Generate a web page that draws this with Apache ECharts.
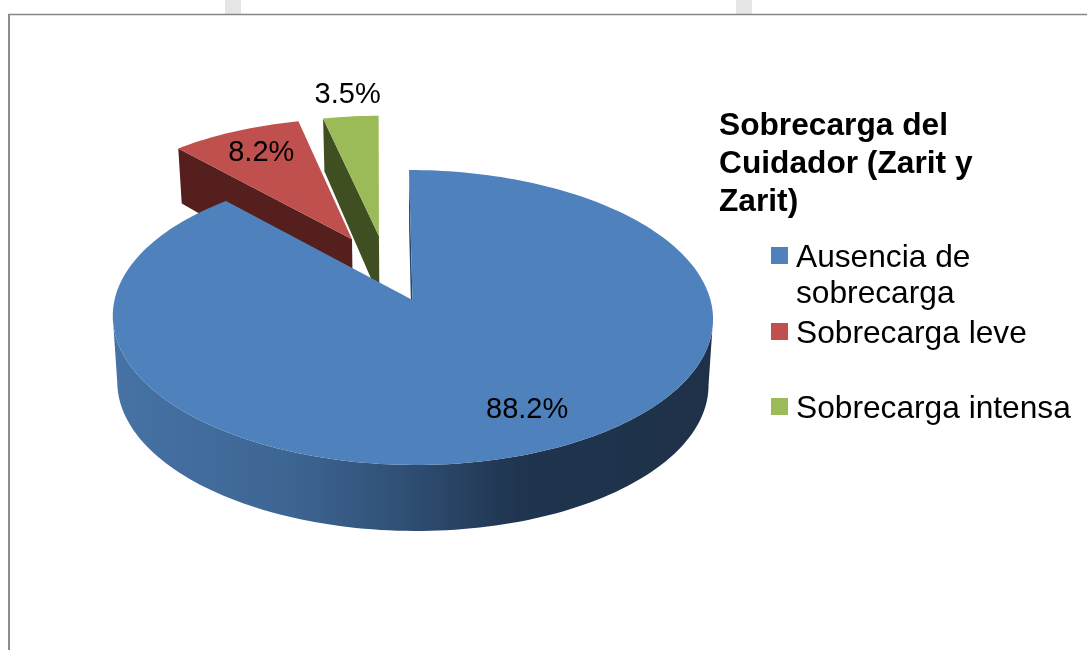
<!DOCTYPE html>
<html>
<head>
<meta charset="utf-8">
<style>html,body{margin:0;padding:0;background:#fff}#main{width:1087px;height:650px}</style>
<script src="https://cdn.jsdelivr.net/npm/echarts@6/dist/echarts.min.js"></script>
</head>
<body>
<div id="main"></div>
<script>
// datos
var categories = ['Ausencia de\nsobrecarga', 'Sobrecarga leve', 'Sobrecarga intensa'];
var values = [88.2, 8.2, 3.5];
var labels = ['88.2%', '8.2%', '3.5%'];
var titleText = 'Sobrecarga del\nCuidador (Zarit y\nZarit)';

var colors = ['#4f81bd', '#c0504d', '#9bbb59'];
var sideColors = ['#2a4668', '#551f1e', '#3f4f22'];
var labelShift = [[31, 7], [-7, -9.5], [-11, -56]];
var sliceNudge = [0, -3, 0];

// vista del pastel 3D
var cx = 412.5, cy = 300, R = 298, Rt = 145.4, persp = 0.1186, shear = 3.5;
var explode = 0.241, depth = 66;
var total = values.reduce(function (a, b) { return a + b; }, 0);

function dir(a) { return [Math.sin(a), Math.cos(a)]; }

function sliceAngles(i) {
    var before = 0;
    for (var k = 0; k < i; k++) before += values[k];
    var a0 = before / total * Math.PI * 2;
    return [a0, a0 + values[i] / total * Math.PI * 2];
}

function project(X, Y, lower) {
    var s = 1 / (1 + persp * Y);
    var x = cx + R * X * s - shear * Y;
    var y = cy - Rt * Y * s - 6 * Math.max(Y - 1, 0);
    if (lower) {
        x = cx + (x - cx) * 0.985;
        y += depth * (1 - 0.14 * Math.max(Y, 0));
    }
    return [x, y];
}

// centro de la torta entera, de modo que el vertice azul quede en (cx, cy)
function slicePoint(i, a, r, lower) {
    var ang = sliceAngles(0), m0 = dir((ang[0] + ang[1]) / 2);
    var s = sliceAngles(i), m = dir((s[0] + s[1]) / 2), d = dir(a);
    var p = project(
        explode * (m[0] - m0[0]) + r * d[0],
        explode * (m[1] - m0[1]) + r * d[1],
        lower
    );
    return [p[0] + sliceNudge[i], p[1]];
}

function arc(i, a0, a1, lower) {
    var pts = [], n = Math.max(4, Math.ceil((a1 - a0) * 40));
    for (var k = 0; k <= n; k++) pts.push(slicePoint(i, a0 + (a1 - a0) * k / n, 1, lower));
    return pts;
}

// solo la parte delantera del borde, entre los extremos derecho e izquierdo
function frontBand(i, a) {
    var top = arc(i, a[0], a[1], false), low = arc(i, a[0], a[1], true);
    var iMax = 0, iMin = 0;
    top.forEach(function (p, k) {
        if (p[0] > top[iMax][0]) iMax = k;
        if (p[0] < top[iMin][0]) iMin = k;
    });
    return top.slice(iMax, iMin + 1).concat(low.slice(iMax, iMin + 1).reverse());
}

var sideGradient = {
    type: 'linear', x: 113, y: 0, x2: 713, y2: 0, global: true,
    colorStops: [
        { offset: 0, color: '#4672a5' },
        { offset: 0.3, color: '#3d6592' },
        { offset: 0.5, color: '#2e4d72' },
        { offset: 0.68, color: '#1f344e' },
        { offset: 1, color: '#1e3148' }
    ]
};

function renderSlice(i) {
    return function (params, api) {
        var a = sliceAngles(i);
        var mid = (a[0] + a[1]) / 2;
        var top = arc(i, a[0], a[1], false);
        var apex = slicePoint(i, 0, 0, false), apexLow = slicePoint(i, 0, 0, true);
        var edge = [apex, top[0], slicePoint(i, a[0], 1, true), apexLow];
        var lp = slicePoint(i, mid, 0.7, false);
        var children = [
            { type: 'polygon', shape: { points: edge }, style: { fill: sideColors[i] } }
        ];
        if (i === 0) {
            children.push({ type: 'polygon', shape: { points: frontBand(i, a) }, style: { fill: sideGradient } });
        }
        children.push({ type: 'polygon', shape: { points: [apex].concat(top) }, style: { fill: colors[i] } });
        children.push({
            type: 'text', z2: 10,
            style: {
                x: lp[0] + labelShift[i][0], y: lp[1] + labelShift[i][1],
                text: labels[i], fill: '#000', align: 'center', verticalAlign: 'middle',
                font: '29px "Liberation Sans", Arial, sans-serif'
            }
        });
        return { type: 'group', children: children };
    };
}

var zOrder = [3, 1, 2];
var series = categories.map(function (name, i) {
    return {
        type: 'custom',
        name: name,
        coordinateSystem: 'none',
        z: zOrder[i],
        silent: true,
        itemStyle: { color: colors[i] },
        renderItem: renderSlice(i),
        data: [values[i]]
    };
});

var legendTop = [199.5, 311.5, 386.5];
var legend = categories.map(function (name, i) {
    return {
        data: [name],
        left: 771,
        top: legendTop[i],
        padding: 0,
        icon: 'rect',
        itemWidth: 17,
        itemHeight: 17,
        selectedMode: false,
        // lineas de relleno arriba: el icono queda a la altura de la primera linea de texto
        formatter: function (n) {
            var lines = n.split('\n').map(function (s) { return '{t|' + s + '}'; });
            if (i === 0) lines.unshift('{t| }');
            return ['{gap| }'].concat(lines).join('\n');
        },
        textStyle: {
            padding: [0, 0, 0, 3],
            rich: {
                gap: { fontSize: 4, lineHeight: 6 },
                t: {
                    fontFamily: '"Liberation Sans", Arial, sans-serif',
                    fontSize: 31.7,
                    lineHeight: 36,
                    color: '#000'
                }
            }
        }
    };
});

var chart = echarts.init(document.getElementById('main'), null, { renderer: 'canvas' });
chart.setOption({
    backgroundColor: '#fff',
    animation: false,
    title: {
        text: titleText,
        left: 719,
        top: 107,
        padding: 0,
        textStyle: {
            fontFamily: '"Liberation Sans", Arial, sans-serif',
            fontSize: 31.7,
            fontWeight: 'bold',
            lineHeight: 38,
            color: '#000'
        }
    },
    legend: legend,
    series: series,
    graphic: [
        { type: 'rect', silent: true, shape: { x: 225, y: 0, width: 16, height: 14 }, style: { fill: '#e6e6e6' } },
        { type: 'rect', silent: true, shape: { x: 736, y: 0, width: 16, height: 14 }, style: { fill: '#e6e6e6' } },
        { type: 'line', silent: true, shape: { x1: 8, y1: 14.5, x2: 1087, y2: 14.5 }, style: { stroke: '#868686', lineWidth: 1.5 } },
        { type: 'line', silent: true, shape: { x1: 9, y1: 14, x2: 9, y2: 650 }, style: { stroke: '#8c8c8c', lineWidth: 2 } }
    ]
});
</script>
</body>
</html>
